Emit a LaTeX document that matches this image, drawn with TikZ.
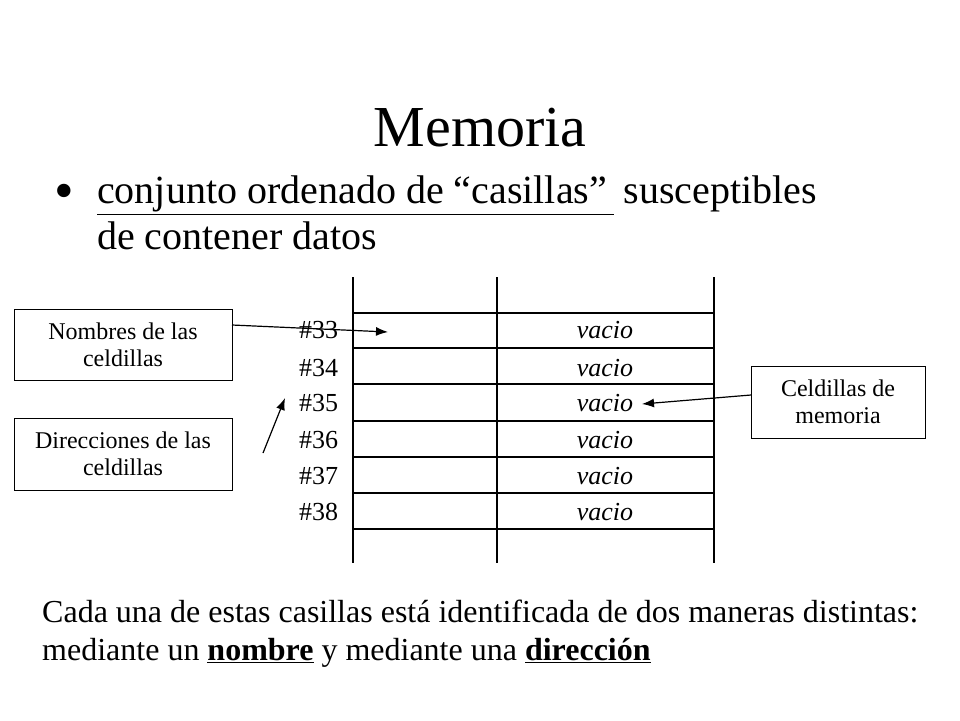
\documentclass[tikz,border=0pt]{standalone}
\usepackage{fontspec}
\setmainfont{Liberation Serif}
\usetikzlibrary{arrows.meta}
\begin{document}
\begin{tikzpicture}[x=1pt,y=-1pt,
  ln/.style={line width=1.6pt},
  box/.style={draw,line width=1pt,align=center,font=\fontsize{24}{27}\selectfont,inner sep=0pt},
  lab/.style={font=\fontsize{26}{28}\selectfont,anchor=west,inner sep=0pt},
  val/.style={font=\fontsize{26}{28}\selectfont\itshape,inner sep=0pt},
  arr/.style={line width=1.2pt,-{Latex[length=12pt,width=9pt]}}]
\useasboundingbox (0,0) rectangle (960,720);
\node[font=\fontsize{58}{62}\selectfont] (title) at (480,128) {Memoria};
\node[anchor=west,inner sep=0pt,font=\fontsize{56}{58}\selectfont] (bul) at (54,197) {•};
\node[anchor=north west,align=left,inner sep=0pt,font=\fontsize{40}{46}\selectfont] (txt) at (97,176) {\underline{conjunto ordenado de “casillas”\,} susceptibles\\de contener datos};
% table
\foreach \x in {353,497,714}{\draw[ln] (\x,277) -- (\x,563);}
\foreach \y in {313,348,384,421,457,493,529}{\draw[ln] (353,\y) -- (714,\y);}
\foreach \i/\y in {33/330,34/368,35/403,36/440,37/476,38/512}{
  \node[lab] (n\i) at (299,\y) {\#\i};
  \node[val] (v\i) at (605,\y) {vacio};
}
\coordinate (t33) at (388,332);
\node[box,minimum width=218,minimum height=71] (b1) at (123,345) {Nombres de las\\celdillas};
\node[box,minimum width=218,minimum height=72] (b2) at (123,454) {Direcciones de las\\celdillas};
\node[box,minimum width=174,minimum height=72] (b3) at (838,402) {Celdillas de\\memoria};
\coordinate (s2) at (263,453);
\coordinate (t2) at (285,398);
\coordinate (s3) at (751,395);
\coordinate (t3) at (642,404);
\draw[arr] (232,325) -- (t33);
\draw[arr] (s2) -- (t2);
\draw[arr] (s3) -- (t3);
\node[anchor=north west,align=left,inner sep=0pt,font=\fontsize{32}{38}\selectfont] (bot) at (42,600) {Cada una de estas casillas está identificada de dos maneras distintas:\\mediante un \textbf{\underline{nombre}} y mediante una \textbf{\underline{dirección}}};
\end{tikzpicture}
\end{document}
